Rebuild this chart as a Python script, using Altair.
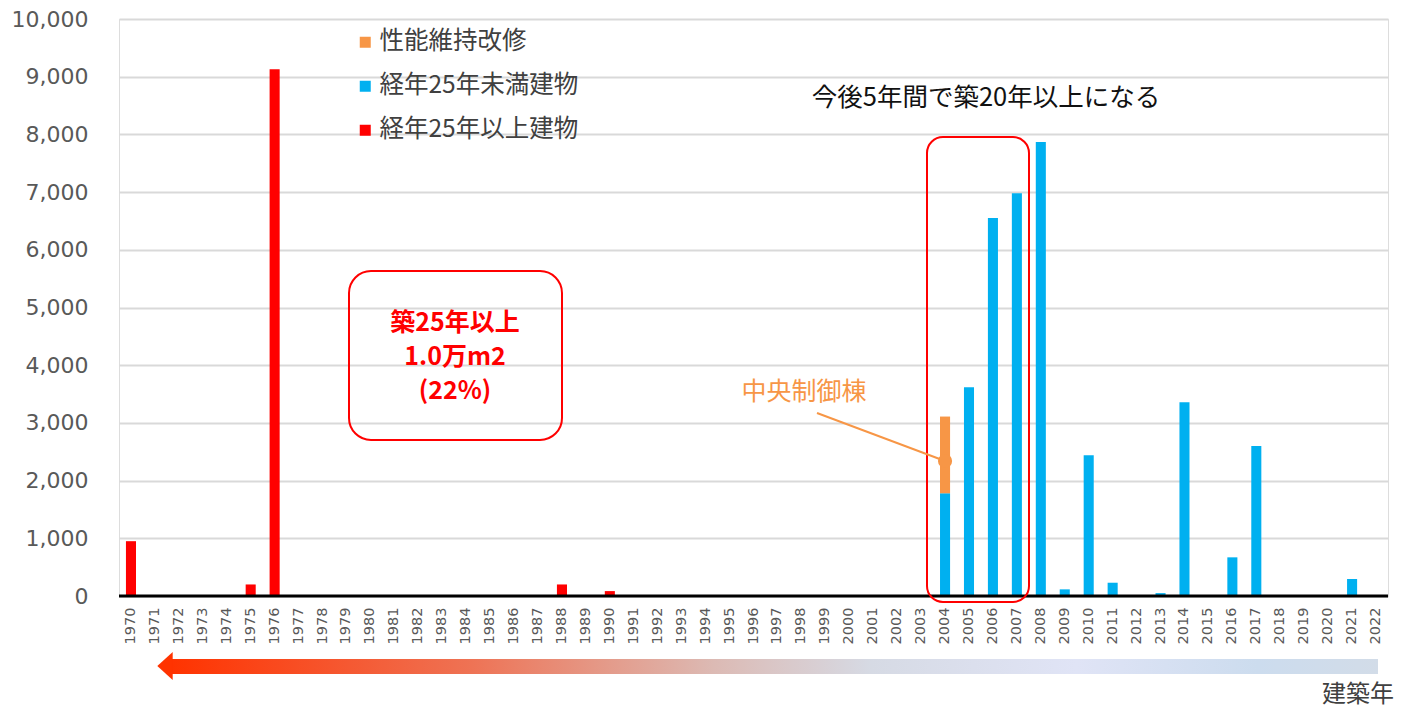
import altair as alt
import pandas as pd

# ---------------- data ----------------
years = [str(y) for y in range(1970, 2023)]

old_years = ["1970", "1975", "1976", "1988", "1990"]
old_vals = [950, 200, 9130, 200, 85]

new_years = ["2004", "2005", "2006", "2007", "2008", "2009", "2010",
             "2011", "2013", "2014", "2016", "2017", "2021"]
new_vals = [1780, 3620, 6550, 6980, 7870, 115, 2440, 230, 50, 3360, 670, 2600, 295]

renov_years = ["2004"]
renov_vals = [1330]

series_names = ["性能維持改修", "経年25年未満建物", "経年25年以上建物"]
series_colors = ["#F79646", "#00B0F0", "#FF0000"]
y_ticks = [0, 1000, 2000, 3000, 4000, 5000, 6000, 7000, 8000, 9000, 10000]

rows = []
for y, v in zip(old_years, old_vals):
    rows.append({"year": y, "value": v, "series": series_names[2], "ord": 0})
for y, v in zip(new_years, new_vals):
    rows.append({"year": y, "value": v, "series": series_names[1], "ord": 1})
for y, v in zip(renov_years, renov_vals):
    rows.append({"year": y, "value": v, "series": series_names[0], "ord": 2})
df = pd.DataFrame(rows)

callout_year = "2004"
callout_value = 2340

JP = "Noto Sans CJK JP"
NUM = "DejaVu Sans"

W, H = 1269, 577

x_scale = alt.Scale(domain=years, paddingInner=0.58, paddingOuter=0.29)
y_scale = alt.Scale(domain=[0, 10000], nice=False)

bars = alt.Chart(df).mark_bar().encode(
    x=alt.X("year:N", scale=x_scale, sort=years,
            axis=alt.Axis(title=None, labelAngle=270, labelFont=NUM, labelFontSize=14.5,
                          labelColor="#595959", ticks=False, domain=False,
                          labelPadding=11, grid=False, labelOverlap=False)),
    y=alt.Y("value:Q", scale=y_scale, stack="zero",
            axis=alt.Axis(title=None, values=y_ticks, format=",.0f", labelFont=NUM,
                          labelFontSize=22, labelColor="#595959", ticks=False,
                          domain=False, labelPadding=31, gridColor="#d9d9d9",
                          gridWidth=2)),
    color=alt.Color("series:N",
                    scale=alt.Scale(domain=series_names, range=series_colors),
                    legend=alt.Legend(title=None, orient="none", legendX=234, legendY=11,
                                      symbolType="square", symbolSize=121,
                                      symbolStrokeWidth=0, labelFont=JP,
                                      labelFontSize=24.5, labelColor="#404040",
                                      labelLimit=400,
                                      rowPadding=19, labelOffset=2, padding=0)),
    order=alt.Order("ord:Q", sort="ascending"),
)

one = pd.DataFrame({"k": [0]})

baseline = alt.Chart(one).mark_rule(color="black", strokeWidth=3).encode(
    y=alt.datum(0))

box_left = alt.Chart(one).mark_rect(
    fillOpacity=0, stroke="#FF0000", strokeWidth=2, cornerRadius=22).encode(
    x=alt.value(230), x2=alt.value(443), y=alt.value(252), y2=alt.value(421))

box_text = alt.Chart(pd.DataFrame({"t": ["築25年以上\n1.0万m2\n(22%)"]})).mark_text(
    font=JP, fontSize=25, fontWeight="bold", color="#FF0000", lineBreak="\n",
    lineHeight=34, align="center", baseline="middle").encode(
    x=alt.value(336), y=alt.value(304), text="t:N")

box_right = alt.Chart(one).mark_rect(
    fillOpacity=0, stroke="#FF0000", strokeWidth=2, cornerRadius=16).encode(
    x=alt.value(808), x2=alt.value(910), y=alt.value(118), y2=alt.value(583))

title_text = alt.Chart(pd.DataFrame({"t": ["今後5年間で築20年以上になる"]})).mark_text(
    font=JP, fontSize=25.5, color="#111111", align="center", baseline="middle").encode(
    x=alt.value(867), y=alt.value(79), text="t:N")

callout_text = alt.Chart(pd.DataFrame({"t": ["中央制御棟"]})).mark_text(
    font=JP, fontSize=25, color="#F79646", align="center", baseline="middle").encode(
    x=alt.value(685), y=alt.value(373), text="t:N")

leader = alt.Chart(one).mark_rule(color="#F79646", strokeWidth=2).encode(
    x=alt.value(698), y=alt.value(394), x2=alt.value(826), y2=alt.value(442))

dot = alt.Chart(pd.DataFrame({"year": [callout_year], "value": [callout_value]})).mark_circle(
    color="#F79646", opacity=1, size=200).encode(
    x=alt.X("year:N", scale=x_scale, sort=years),
    y=alt.Y("value:Q", scale=y_scale))

grad = alt.Gradient(
    gradient="linear", x1=0, x2=1, y1=0, y2=0,
    stops=[alt.GradientStop(offset=0, color="#FF3300"),
           alt.GradientStop(offset=0.25, color="#EE7355"),
           alt.GradientStop(offset=0.45, color="#DCBAB4"),
           alt.GradientStop(offset=0.58, color="#D6DAE4"),
           alt.GradientStop(offset=0.75, color="#E0E4F6"),
           alt.GradientStop(offset=0.9, color="#CCDCEE"),
           alt.GradientStop(offset=1, color="#D2DCE8")])

arrow_shaft = alt.Chart(one).mark_rect(fill=grad).encode(
    x=alt.value(52), x2=alt.value(1259), y=alt.value(640), y2=alt.value(655))

arrow_head = alt.Chart(one).mark_point(
    shape="M -0.55 0 L 0.55 -1 L 0.55 1 Z", filled=True, fill="#FF3300",
    opacity=1, strokeWidth=0, size=784).encode(
    x=alt.value(46), y=alt.value(647))

xlabel = alt.Chart(pd.DataFrame({"t": ["建築年"]})).mark_text(
    font=JP, fontSize=24, color="#404040", align="left", baseline="middle").encode(
    x=alt.value(1203), y=alt.value(676), text="t:N")

chart = alt.layer(
    bars, baseline, box_left, box_text, box_right, title_text,
    leader, dot, callout_text, arrow_shaft, arrow_head, xlabel
).properties(
    width=W, height=H,
    autosize=alt.AutoSizeParams(type="none"),
    padding={"left": 119, "top": 19, "right": 15, "bottom": 117},
).configure_view(stroke=None).configure(background="white")

chart.save("out.html", embed_options={"renderer": "svg", "actions": False})
